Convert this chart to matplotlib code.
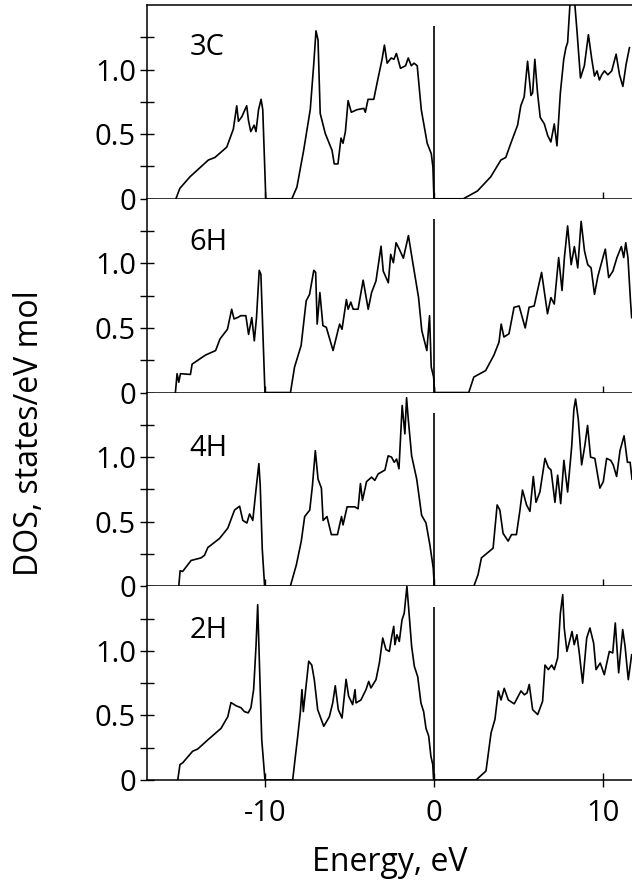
import matplotlib
matplotlib.use("Agg")
import matplotlib.pyplot as plt
from matplotlib.ticker import FixedLocator

plt.rcParams['font.family'] = ['Open Sans', 'DejaVu Sans']

# Density of states (energy in eV, DOS in states/eV mol)
polytypes = ["3C", "6H", "4H", "2H"]

energy_3C = [-15.29, -15.06, -14.46, -13.37, -12.98, -12.28, -11.89, -11.69, -11.59, -11.39,
             -11.10, -11.00, -10.86, -10.66, -10.55, -10.40, -10.25, -10.15, -9.97,
             -8.43, -8.13, -7.73, -7.34, -7.14, -7.00, -6.88, -6.75, -6.45, -6.05,
             -5.92, -5.70, -5.52, -5.40, -5.26, -5.10, -4.91, -4.57, -4.17, -4.08,
             -3.92, -3.58, -3.38, -3.09, -2.95, -2.79, -2.55, -2.39, -2.24, -2.00,
             -1.70, -1.54, -1.36, -1.20, -1.01, -0.77, -0.52, -0.42, -0.18, -0.08, -0.02,
             1.72, 2.55, 3.34, 3.94, 4.23, 4.53, 4.93, 5.12, 5.32, 5.52, 5.72, 5.82,
             5.95, 6.11, 6.27, 6.51, 6.71, 6.90, 7.10, 7.26, 7.46, 7.66, 7.79, 7.89,
             8.05, 8.29, 8.45, 8.65, 8.88, 9.12, 9.32, 9.48, 9.63, 9.77, 9.91, 10.07,
             10.27, 10.50, 10.76, 10.96, 11.16, 11.35, 11.55]
dos_3C = [0, 0.08, 0.17, 0.30, 0.32, 0.40, 0.54, 0.72, 0.60, 0.635,
          0.72, 0.61, 0.52, 0.57, 0.52, 0.69, 0.77, 0.69, 0,
          0, 0.09, 0.375, 0.69, 1.03, 1.30, 1.23, 0.66, 0.505, 0.375,
          0.27, 0.27, 0.47, 0.43, 0.52, 0.76, 0.67, 0.69, 0.70, 0.67,
          0.77, 0.77, 0.90, 1.08, 1.19, 1.05, 1.09, 1.08, 1.125, 1.01,
          1.03, 1.09, 1.03, 1.05, 1.03, 0.69, 0.505, 0.43, 0.35, 0.245, 0,
          0, 0.06, 0.17, 0.30, 0.32, 0.43, 0.57, 0.72, 0.79, 1.065, 0.80, 0.82,
          1.08, 0.82, 0.63, 0.58, 0.49, 0.44, 0.58, 0.41, 0.82, 1.08, 1.17, 1.21,
          1.55, 1.55, 1.29, 0.935, 1.03, 1.27, 1.08, 0.95, 0.99, 0.92, 0.96, 0.99,
          0.96, 0.99, 1.12, 0.96, 0.87, 1.04, 1.17]

energy_6H = [-15.32, -15.22, -15.12, -15.02, -14.43, -14.33, -13.54, -12.94, -12.68, -12.24,
             -11.99, -11.85, -11.65, -11.45, -11.15, -10.99, -10.80, -10.65, -10.52, -10.36,
             -10.26, -10.16, -10.02,
             -8.51, -8.27, -7.88, -7.58, -7.38, -7.13, -7.02, -6.93, -6.77, -6.59, -6.39,
             -5.99, -5.70, -5.60, -5.46, -5.20, -5.10, -4.94, -4.80, -4.51, -4.21, -3.91,
             -3.71, -3.45, -3.15, -3.02, -2.72, -2.58, -2.42, -2.26, -2.07, -1.83, -1.53,
             -1.29, -0.93, -0.74, -0.44, -0.28, -0.18, -0.04, 0.02,
             2.04, 2.34, 3.04, 3.53, 3.83, 3.96, 4.12, 4.42, 4.72, 5.02, 5.38, 5.61,
             5.91, 6.11, 6.35, 6.70, 6.90, 7.10, 7.36, 7.56, 7.70, 7.89, 8.10, 8.29,
             8.49, 8.69, 8.89, 9.08, 9.28, 9.48, 9.68, 9.98, 10.12, 10.32, 10.57, 10.81,
             11.07, 11.21, 11.33, 11.46, 11.61, 11.68]
dos_6H = [0, 0.146, 0.08, 0.146, 0.14, 0.22, 0.29, 0.325, 0.415, 0.49,
          0.645, 0.57, 0.58, 0.595, 0.595, 0.45, 0.58, 0.40, 0.58, 0.946,
          0.915, 0.53, 0,
          0, 0.197, 0.364, 0.71, 0.76, 0.946, 0.93, 0.53, 0.774, 0.518, 0.505,
          0.325, 0.48, 0.53, 0.49, 0.72, 0.645, 0.70, 0.645, 0.645, 0.87, 0.645,
          0.774, 0.864, 1.133, 0.94, 0.85, 1.07, 1.005, 1.16, 1.11, 1.04, 1.215,
          1.02, 0.735, 0.48, 0.325, 0.595, 0.197, 0.12, 0,
          0, 0.12, 0.17, 0.29, 0.39, 0.53, 0.43, 0.455, 0.66, 0.67, 0.50, 0.66,
          0.67, 0.79, 0.93, 0.61, 0.735, 0.685, 1.045, 0.79, 1.045, 1.29, 0.99, 1.13,
          0.965, 1.325, 1.095, 0.99, 0.965, 0.76, 0.90, 1.045, 1.11, 0.89, 0.94, 1.045,
          1.13, 1.045, 1.16, 1.045, 0.71, 0.58]

energy_4H = [-15.12, -15.04, -14.89, -14.39, -13.80, -13.60, -13.40, -12.71, -12.22, -11.82,
             -11.52, -11.33, -11.09, -10.93, -10.74, -10.54, -10.38, -10.30, -10.18, -10.04,
             -8.52, -8.16, -7.87, -7.67, -7.37, -7.21, -7.04, -6.88, -6.68, -6.58, -6.35,
             -6.09, -5.73, -5.49, -5.40, -5.16, -4.90, -4.70, -4.51, -4.37, -4.25, -4.01,
             -3.71, -3.52, -3.32, -3.12, -2.92, -2.73, -2.53, -2.37, -2.23, -2.09, -1.90,
             -1.74, -1.64, -1.54, -1.34, -1.04, -0.75, -0.49, -0.26, -0.06, 0.0,
             2.34, 2.59, 2.79, 3.48, 3.72, 3.88, 4.07, 4.37, 4.57, 4.86, 5.06, 5.22,
             5.46, 5.66, 5.86, 6.02, 6.25, 6.55, 6.75, 6.91, 7.14, 7.30, 7.48, 7.67,
             7.89, 8.13, 8.26, 8.36, 8.52, 8.72, 8.91, 9.07, 9.25, 9.50, 9.80, 10.00,
             10.20, 10.44, 10.59, 10.79, 10.99, 11.23, 11.43, 11.59, 11.70]
dos_4H = [0, 0.12, 0.115, 0.20, 0.22, 0.24, 0.30, 0.37, 0.45, 0.59,
          0.62, 0.51, 0.49, 0.56, 0.51, 0.76, 0.95, 0.78, 0.29, 0,
          0, 0.167, 0.35, 0.54, 0.59, 0.78, 1.05, 0.83, 0.76, 0.51, 0.54,
          0.40, 0.40, 0.54, 0.475, 0.615, 0.615, 0.615, 0.60, 0.795, 0.665, 0.81,
          0.845, 0.82, 0.87, 0.885, 0.90, 1.01, 1.00, 0.96, 0.985, 0.91, 1.40,
          1.18, 1.46, 1.295, 1.01, 0.83, 0.55, 0.49, 0.32, 0.14, 0,
          0, 0.09, 0.22, 0.295, 0.63, 0.59, 0.41, 0.35, 0.40, 0.40, 0.58, 0.745,
          0.63, 0.58, 0.85, 0.65, 0.73, 0.99, 0.92, 0.90, 0.65, 0.86, 0.64, 0.975,
          0.73, 1.08, 1.37, 1.45, 1.295, 0.94, 1.09, 1.245, 1.00, 0.99, 0.76, 0.81,
          0.99, 0.975, 0.94, 0.85, 1.05, 1.165, 0.96, 0.96, 0.83]

energy_2H = [-15.18, -15.05, -14.89, -14.30, -14.00, -13.41, -12.62, -12.22, -12.03, -11.73,
             -11.44, -11.24, -11.01, -10.85, -10.69, -10.55, -10.45, -10.36, -10.21, -10.02,
             -8.38, -8.24, -8.08, -7.93, -7.83, -7.75, -7.59, -7.43, -7.25, -7.10, -6.90,
             -6.54, -6.21, -6.01, -5.86, -5.68, -5.46, -5.22, -5.07, -4.83, -4.69, -4.63,
             -4.34, -4.04, -3.88, -3.75, -3.45, -3.25, -3.05, -2.86, -2.66, -2.52, -2.40,
             -2.33, -2.21, -2.07, -1.91, -1.78, -1.62, -1.51, -1.34, -1.18, -0.98, -0.79,
             -0.63, -0.49, -0.33, -0.20, -0.09, -0.04,
             2.47, 3.06, 3.36, 3.59, 3.79, 3.95, 4.14, 4.38, 4.73, 5.13, 5.33, 5.49,
             5.62, 5.82, 6.12, 6.41, 6.55, 6.75, 6.95, 7.10, 7.30, 7.46, 7.60, 7.69,
             7.85, 8.03, 8.15, 8.28, 8.44, 8.58, 8.78, 9.02, 9.21, 9.43, 9.57, 9.82,
             10.06, 10.36, 10.56, 10.71, 10.91, 11.15, 11.29, 11.48, 11.68]
dos_2H = [0, 0.12, 0.133, 0.223, 0.24, 0.31, 0.40, 0.49, 0.60, 0.575,
          0.56, 0.53, 0.52, 0.56, 0.70, 1.035, 1.357, 0.957, 0.313, 0,
          0, 0.16, 0.34, 0.52, 0.70, 0.53, 0.725, 0.92, 0.89, 0.777, 0.545,
          0.416, 0.49, 0.597, 0.73, 0.545, 0.48, 0.78, 0.65, 0.584, 0.70, 0.597,
          0.62, 0.70, 0.764, 0.713, 0.777, 0.906, 1.10, 1.01, 0.996, 1.11, 1.19,
          1.048, 1.125, 1.073, 1.24, 1.29, 1.50, 1.32, 1.035, 0.88, 0.80, 0.597,
          0.53, 0.40, 0.34, 0.184, 0.12, 0,
          0, 0.07, 0.365, 0.47, 0.69, 0.62, 0.71, 0.62, 0.59, 0.69, 0.66, 0.675,
          0.74, 0.545, 0.507, 0.61, 0.89, 0.855, 0.89, 0.855, 0.945, 1.29, 1.435, 1.177,
          0.996, 1.087, 1.15, 1.048, 1.125, 0.984, 0.75, 1.10, 1.177, 1.06, 0.855, 0.906,
          0.816, 0.996, 0.984, 1.216, 0.83, 1.165, 1.035, 0.777, 0.97]

energies = [energy_3C, energy_6H, energy_4H, energy_2H]
dos_values = [dos_3C, dos_6H, dos_4H, dos_2H]
fermi_level = 0.0
fermi_mark_height = 1.34

fig, axes = plt.subplots(4, 1, figsize=(6.32, 8.84), dpi=100, sharex=True)
fig.subplots_adjust(left=0.2326, right=1.0, bottom=0.1176, top=0.9943, hspace=0)

label_y = [1.17, 1.16, 1.07, 1.16]
for i, ax in enumerate(axes):
    ax.plot(energies[i], dos_values[i], color='black', lw=1.2)
    ax.vlines(fermi_level, 0, fermi_mark_height, color='black', lw=1.2)
    ax.set_xlim(-17, 11.7)
    ax.set_ylim(0, 1.5)
    ax.set_yticks([0, 0.5, 1.0])
    ax.set_yticklabels(['0', '0.5', '1.0'])
    ax.yaxis.set_minor_locator(FixedLocator([0.25, 0.75, 1.25]))
    ax.set_xticks([-10, 0, 10])
    ax.tick_params(which='both', direction='inout', length=10, width=1.0,
                   labelsize=21, pad=3)
    ax.tick_params(axis='x', pad=9)
    ax.spines['right'].set_visible(False)
    if i > 0:
        ax.spines['top'].set_visible(False)
    for s in ['left', 'bottom', 'top']:
        ax.spines[s].set_linewidth(1.1)
    ax.text(-14.5, label_y[i], polytypes[i], fontsize=21, va='center')

axes[-1].set_xticklabels(['-10', '0', '10'])

fig.text(0.617, 0.024, "Energy, eV", fontsize=23, ha='center', va='center')
fig.text(0.047, 0.51, "DOS, states/eV mol", fontsize=23, rotation=90,
         ha='center', va='center')

plt.savefig("out.png", dpi=100)
